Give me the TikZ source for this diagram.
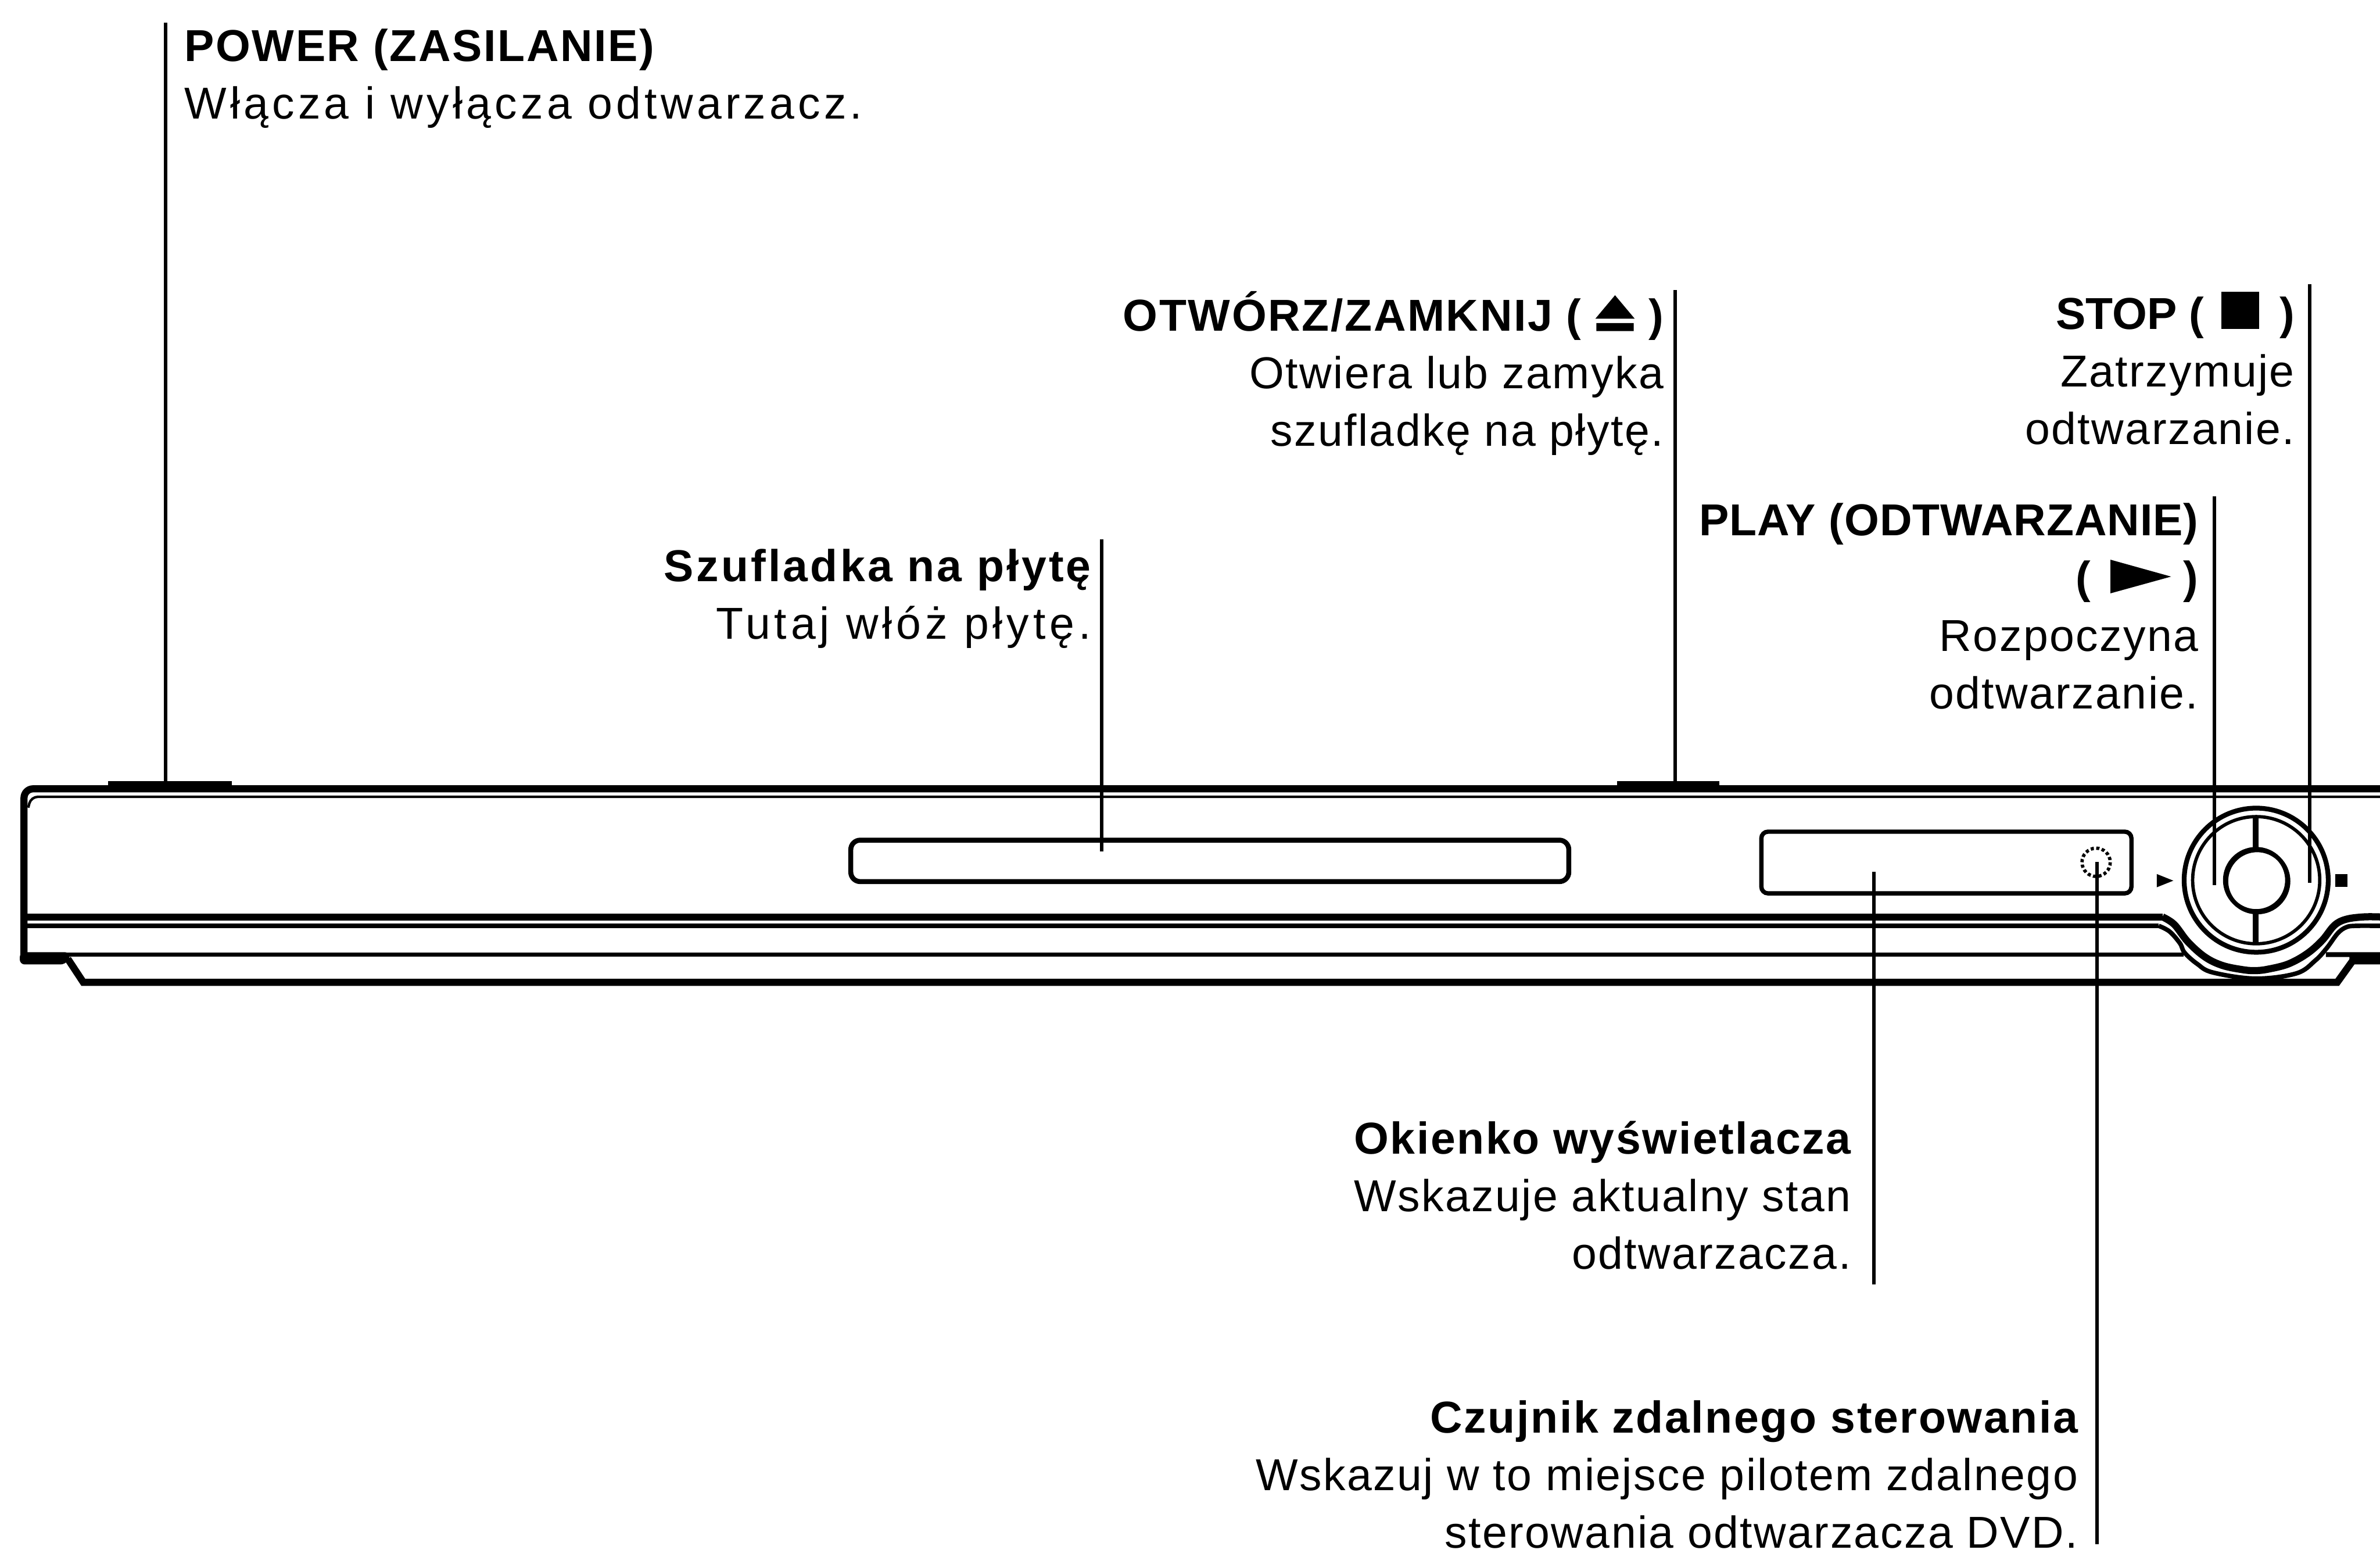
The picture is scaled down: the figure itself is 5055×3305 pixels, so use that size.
\documentclass[tikz,border=0pt]{standalone}
\usepackage{fontspec}
\setmainfont{Liberation Sans}
\newfontfamily\bodyfont[LetterSpace=3.2]{Liberation Sans}
\newfontfamily\bodymid[LetterSpace=9]{Liberation Sans}
\newfontfamily\bodywide[LetterSpace=8.1]{Liberation Sans}
\newfontfamily\headfont[LetterSpace=3.4]{Liberation Sans}
\newfontfamily\headwide[LetterSpace=5.5]{Liberation Sans}
\newfontfamily\headtight[LetterSpace=1.3]{Liberation Sans}
\usetikzlibrary{calc,positioning}
\newcommand{\ejectglyph}{\tikz[x=1pt,y=1pt,baseline=0pt]\fill (0,0) rectangle (22.6,4.8) (-0.6,7.4)--(23.2,7.4)--(11.3,21.6)--cycle;}
\newcommand{\stopglyph}{\tikz[x=1pt,y=1pt,baseline=0pt]\fill (0,0) rectangle (22.5,22.5);}
\newcommand{\playglyph}{\tikz[x=1pt,y=1pt,baseline=0pt]\fill (0,0)--(36.6,10.1)--(0,20.3)--cycle;}
\tikzset{
  lead/.style={line width=2pt},
  edgeline/.style={line width=4.3pt},
  edgethin/.style={line width=2.7pt},
  hair/.style={line width=1.5pt},
  lab/.style={anchor=north east,align=right,inner sep=0pt,font=\fontsize{27}{34.8}\selectfont\bodyfont},
  labl/.style={anchor=north west,align=left,inner sep=0pt,font=\fontsize{27}{34.8}\selectfont\bodyfont}
}
\begin{document}
\begin{tikzpicture}[x=0.01cm,y=-0.01cm]
\useasboundingbox (0,0) rectangle (5055,3305);
% labels
\node[labl] (power) at (391,61) {{\headfont\bfseries POWER (ZASILANIE)}\\{\bodywide Włącza i wyłącza odtwarzacz.}};
\node[lab] (open) at (3534,618) {{\headfont\bfseries OTWÓRZ/ZAMKNIJ ( \ejectglyph\ )}\\Otwiera lub zamyka\\szufladkę na płytę.};
\node[lab] (stop) at (4874,619) {{\normalfont\bfseries STOP ( \hspace{3pt}\stopglyph\ \hspace{5pt})}\\Zatrzymuje\\odtwarzanie.};
\node[lab] (play) at (4670,1068) {{\headtight\bfseries PLAY (ODTWARZANIE)}\\{\normalfont\bfseries ( \hspace{4.5pt}\playglyph\ )}\\Rozpoczyna\\odtwarzanie.};
\node[lab] (slot) at (2318,1165) {{\headwide\bfseries Szufladka na płytę}\\{\bodymid Tutaj włóż płytę.}};
\node[lab] (display) at (3932,2380) {{\headfont\bfseries Okienko wyświetlacza}\\Wskazuje aktualny stan\\odtwarzacza.};
\node[lab] (sensor) at (4414,2973) {{\headfont\bfseries Czujnik zdalnego sterowania}\\Wskazuj w to miejsce pilotem zdalnego\\sterowania odtwarzacza DVD.};
% player
\draw[edgeline,rounded corners=5.5pt] (5055,1675)--(51,1675)--(51,2040);
\draw[hair,rounded corners=4pt] (5055,1692)--(66,1692)--(60,1715);
\fill[rounded corners=3pt] (42,2022)--(149,2022)--(149,2033)--(139,2048)--(42,2048)--cycle;
\fill (230,1659) rectangle (492,1675);
\fill (3434,1659) rectangle (3652,1675);
\draw[edgeline] (55,1947)--(4593,1947);
\draw[edgethin] (55,1966)--(4585,1966);
\draw[edgethin] (55,2027)--(4638,2027);
\fill (4940,2022) rectangle (5055,2032) (4990,2032) rectangle (5055,2048);
\draw[edgeline] (144,2036)--(177,2086)--(4964,2086)--(4997,2040);
\draw[line width=2.6pt,rounded corners=4pt] (3741,1766) rectangle (4527,1897);
\draw[line width=3pt,rounded corners=5.7pt] (1807,1784) rectangle (3332,1872);
\draw[line width=2pt,dash pattern=on 1.9pt off 1.45pt] (4452,1831) circle (30);
% wheel
\draw[edgeline] plot[smooth,tension=0.6] coordinates {(4593,1947) (4618,1963) (4647,2000) (4683,2032) (4720,2050) (4763,2059) (4790,2061) (4817,2058) (4860,2047) (4900,2025) (4932,1997) (4958,1965) (4983,1952) (5020,1947) (5055,1947)};
\draw[edgethin] plot[smooth,tension=0.6] coordinates {(4585,1966) (4608,1978) (4630,2003) (4640,2023) (4667,2047) (4700,2065) (4790,2078) (4877,2067) (4917,2040) (4942,2013) (4965,1982) (4983,1969) (5003,1966) (5055,1966)};
\draw[line width=2.9pt] (4792,1869) circle (153);
\draw[line width=2pt] (4792,1869) circle (135);
\draw[line width=2.6pt] (4792,1869) circle (66) (4794,1871) circle (66);
\draw[line width=3.4pt] (4791,1732)--(4791,1801) (4791,1937)--(4791,2007);
\fill (4581,1856)--(4616,1870)--(4581,1884)--cycle;
\fill (4960,1856) rectangle (4986,1883);
% connectors
\draw[lead] (352,48)--(352,1659);
\draw[lead] (2340,1145)--(2340,1808);
\draw[lead] (3558,616)--(3558,1659);
\draw[lead] (4703,1054)--(4703,1880);
\draw[lead] (4906,604)--(4906,1875);
\draw[lead] (3980,1851)--(3980,2727);
\draw[lead] (4454,1830)--(4454,3279);
\end{tikzpicture}
\end{document}
